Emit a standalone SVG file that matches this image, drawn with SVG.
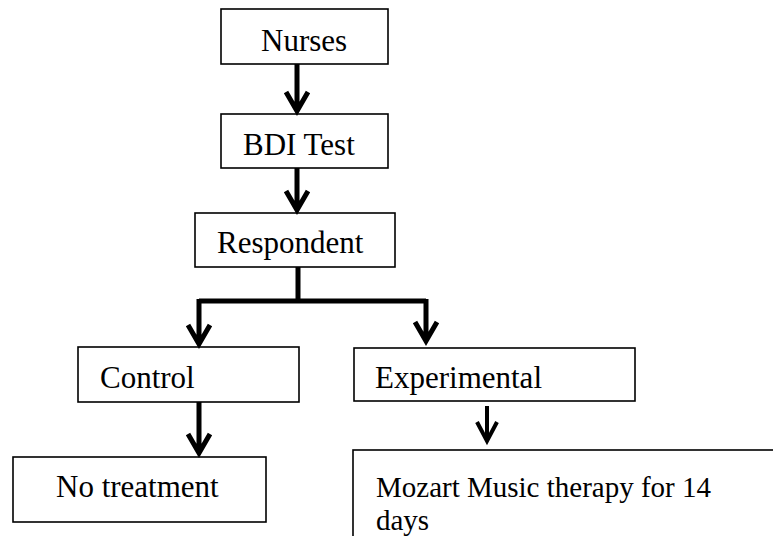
<svg xmlns="http://www.w3.org/2000/svg" width="773" height="536" viewBox="0 0 773 536">
<style>
.box{fill:#fff;stroke:#000;stroke-width:1.6}
.t{font-family:"Liberation Serif","Times New Roman",serif;font-size:31px;fill:#000}
.t2{font-family:"Liberation Serif","Times New Roman",serif;font-size:29px;fill:#000}
.c{fill:none;stroke:#000;stroke-width:5;stroke-linejoin:miter;stroke-linecap:butt}
.c2{fill:none;stroke:#000;stroke-width:4;stroke-linejoin:miter;stroke-linecap:butt}
</style>
<rect width="773" height="536" fill="#fff"/>
<g id="nurses"><rect class="box" x="221" y="9" width="167" height="55"/><text class="t" x="261" y="51">Nurses</text></g>
<g id="bdi"><rect class="box" x="221" y="114" width="167" height="54"/><text class="t" x="243" y="155">BDI Test</text></g>
<g id="respondent"><rect class="box" x="195" y="213" width="200" height="54"/><text class="t" x="217" y="253">Respondent</text></g>
<g id="control"><rect class="box" x="78" y="347" width="221" height="55"/><text class="t" x="100" y="388">Control</text></g>
<g id="experimental"><rect class="box" x="354" y="348" width="281" height="53"/><text class="t" x="375" y="388">Experimental</text></g>
<g id="notreatment"><rect class="box" x="13" y="457" width="253" height="65"/><text class="t" x="56" y="497">No treatment</text></g>
<g id="mozart"><rect class="box" x="353" y="450" width="440" height="100"/><text class="t2" x="376" y="497">Mozart Music therapy for 14</text><text class="t2" x="376" y="530">days</text></g>
<g id="connectors">
<path class="c" d="M297 64V111M286 92L297 111L308 92"/>
<path class="c" d="M297 168V210M286 191L297 210L308 191"/>
<path class="c" d="M298 267V301M199 301H426"/>
<path class="c" d="M199 299V344M188 325L199 344L210 325"/>
<path class="c" d="M426 299V341M415 322L426 341L437 322"/>
<path class="c" d="M199 402V453M188 434L199 453L210 434"/>
<path class="c2" d="M487 406V441M477 422L487 441L497 422"/>
</g>
</svg>
